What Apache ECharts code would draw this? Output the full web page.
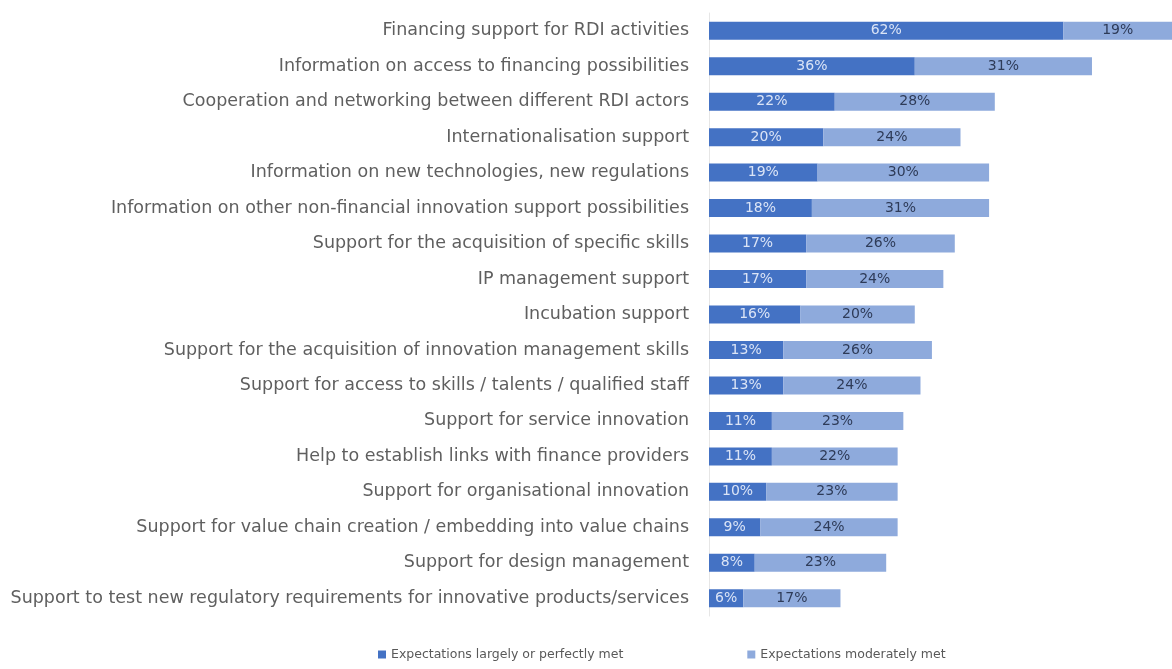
<!DOCTYPE html>
<html>
<head>
<meta charset="utf-8">
<script src="https://cdn.jsdelivr.net/npm/echarts@6/dist/echarts.min.js"></script>
<style>
  html, body { margin: 0; padding: 0; background: #ffffff; }
  #chart { width: 1172px; height: 669px; }
</style>
</head>
<body>
<div id="chart"></div>
<script>
// Support types, listed top to bottom
const categories = [
  'Financing support for RDI activities',
  'Information on access to financing possibilities',
  'Cooperation and networking between different RDI actors',
  'Internationalisation support',
  'Information on new technologies, new regulations',
  'Information on other non-financial innovation support possibilities',
  'Support for the acquisition of specific skills',
  'IP management support',
  'Incubation support',
  'Support for the acquisition of innovation management skills',
  'Support for access to skills / talents / qualified staff',
  'Support for service innovation',
  'Help to establish links with finance providers',
  'Support for organisational innovation',
  'Support for value chain creation / embedding into value chains',
  'Support for design management',
  'Support to test new regulatory requirements for innovative products/services'
];

// Share of respondents (%)
const largelyMet    = [62, 36, 22, 20, 19, 18, 17, 17, 16, 13, 13, 11, 11, 10, 9, 8, 6];
const moderatelyMet = [19, 31, 28, 24, 30, 31, 26, 24, 20, 26, 24, 23, 22, 23, 24, 23, 17];

const seriesNames = ['Expectations largely or perfectly met', 'Expectations moderately met'];

const chart = echarts.init(document.getElementById('chart'), null, { renderer: 'canvas' });

chart.setOption({
  animation: false,
  backgroundColor: '#ffffff',
  textStyle: { fontFamily: 'DejaVu Sans' },
  grid: { left: 709, right: 0, top: 13, bottom: 53, containLabel: false },
  legend: {
    bottom: 3,
    left: 373,
    itemWidth: 8,
    itemHeight: 8,
    itemGap: 124,
    icon: 'rect',
    textStyle: { fontSize: 12.5, color: '#595959', fontFamily: 'DejaVu Sans' },
    data: seriesNames
  },
  xAxis: {
    type: 'value',
    min: 0,
    max: 81,
    show: false
  },
  yAxis: {
    type: 'category',
    inverse: true,
    data: categories,
    axisLine: { show: true, lineStyle: { color: '#e6e6e6', width: 1 } },
    axisTick: { show: false },
    axisLabel: { margin: 20, fontSize: 17.5, color: '#5f5f5f', fontFamily: 'DejaVu Sans' }
  },
  series: [
    {
      name: seriesNames[0],
      type: 'bar',
      stack: 'total',
      barWidth: 18,
      data: largelyMet,
      itemStyle: { color: '#4472c4' },
      label: {
        show: true,
        position: 'inside',
        formatter: '{c}%',
        fontSize: 14,
        color: '#dbe4f6',
        fontFamily: 'DejaVu Sans'
      }
    },
    {
      name: seriesNames[1],
      type: 'bar',
      stack: 'total',
      barWidth: 18,
      data: moderatelyMet,
      itemStyle: { color: '#8eaadc' },
      label: {
        show: true,
        position: 'inside',
        formatter: '{c}%',
        fontSize: 14,
        color: '#2e3b58',
        fontFamily: 'DejaVu Sans'
      }
    }
  ]
});
</script>
</body>
</html>
